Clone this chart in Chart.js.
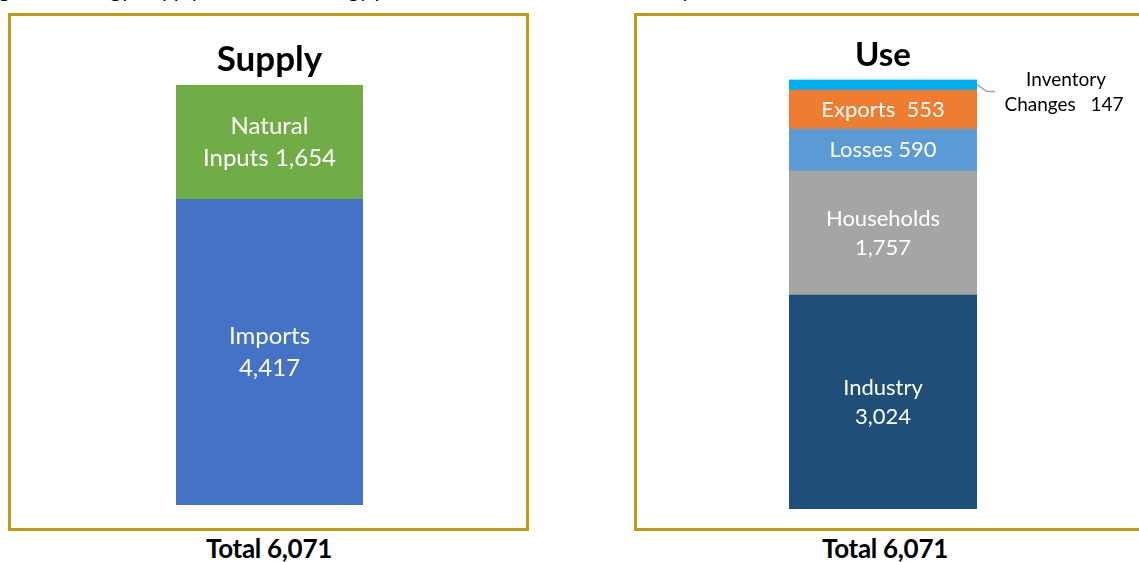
<!DOCTYPE html>
<html>
<head>
<meta charset="utf-8">
<script src="https://cdn.jsdelivr.net/npm/chart.js@4.4.1/dist/chart.umd.min.js"></script>
<style>
  html, body { margin: 0; padding: 0; background: #fff; overflow: hidden; }
  body { width: 1139px; height: 562px; position: relative; font-family: 'Lato', sans-serif; }
  .caption { position: absolute; top: -24px; left: -18px; font-size: 21px; color: #000; white-space: nowrap; }
  .panel { position: absolute; top: 13px; height: 512px; border: 3px solid #C29B13; box-sizing: content-box; }
  #panel-supply { left: 8px; width: 515px; }
  #panel-use { left: 634px; width: 520px; }
  .panel canvas { display: block; }
  .total { position: absolute; top: 532px; font-weight: 700; font-size: 26px; color: #000; text-align: center; width: 300px; letter-spacing: -0.3px; }
</style>
</head>
<body>
<div class="caption">Figure 1: Energy, supply and use of energy products, Australia, 2019–20 (PJ/year)</div>

<div class="panel" id="panel-supply"><div style="position:relative;width:515px;height:512px"><canvas id="chart-supply"></canvas></div></div>
<div class="panel" id="panel-use"><div style="position:relative;width:502px;height:512px"><canvas id="chart-use"></canvas></div></div>

<div class="total" id="total-supply" style="left:119px"></div>
<div class="total" id="total-use" style="left:735px"></div>

<script>
// ── Data (PJ) ──
const supplyNames  = ['Imports', 'Natural Inputs'];
const supplyValues = [4417, 1654];
const supplyLabels = [['Imports', '{v}'], ['Natural', 'Inputs {v}']];
const supplyColors = ['#4472C4', '#70AD47'];

const useNames  = ['Industry', 'Households', 'Losses', 'Exports', 'Inventory Changes'];
const useValues = [3024, 1757, 590, 553, 147];
const useLabels = [['Industry', '{v}'], ['Households', '{v}'], ['Losses {v}'], ['Exports  {v}'], null];
const useColors = ['#1F4E79', '#A5A5A5', '#5B9BD5', '#ED7D31', '#00B0F0'];

const FONT = "'Lato', sans-serif";

function fmt(v) {
  return v.toLocaleString('en-US');
}

// Segment labels drawn centred in each stacked piece
const segmentLabels = {
  id: 'segmentLabels',
  afterDatasetsDraw(chart, args, opts) {
    const ctx = chart.ctx;
    ctx.save();
    ctx.font = `${opts.size}px ${FONT}`;
    ctx.fillStyle = '#fff';
    ctx.textAlign = 'center';
    ctx.textBaseline = 'middle';
    chart.data.datasets.forEach((ds, i) => {
      const lines = opts.labels[i];
      if (!lines) return;
      const bar = chart.getDatasetMeta(i).data[0];
      const cy = (bar.y + bar.base) / 2;
      const v = fmt(ds.data[0]);
      lines.forEach((l, k) => {
        const y = cy + (k - (lines.length - 1) / 2) * opts.lineHeight;
        ctx.fillText(l.replace('{v}', v), bar.x, y);
      });
    });
    ctx.restore();
  }
};

// Callout for the thin top segment
const callout = {
  id: 'callout',
  afterDatasetsDraw(chart, args, opts) {
    if (!opts.enabled) return;
    const i = chart.data.datasets.length - 1;
    const bar = chart.getDatasetMeta(i).data[0];
    const right = bar.x + bar.width / 2;
    const ctx = chart.ctx;
    ctx.save();
    ctx.strokeStyle = '#A6A6A6';
    ctx.lineWidth = 1.5;
    ctx.beginPath();
    ctx.moveTo(right, bar.y + 5);
    ctx.lineTo(right + 10, bar.y + 12);
    ctx.lineTo(right + 18, bar.y + 12);
    ctx.stroke();
    ctx.font = `19px ${FONT}`;
    ctx.fillStyle = '#000';
    ctx.textAlign = 'center';
    ctx.textBaseline = 'middle';
    const v = chart.data.datasets[i].data[0];
    ctx.fillText('Inventory', right + 89, bar.y);
    ctx.fillText('Changes   ' + fmt(v), right + 87, bar.y + 25);
    ctx.restore();
  }
};

function stackedChart(id, title, names, values, colors, labels, o) {
  const total = values.reduce((a, b) => a + b, 0);
  return new Chart(document.getElementById(id), {
    type: 'bar',
    data: {
      labels: [''],
      datasets: names.map((n, i) => ({
        label: n,
        data: [values[i]],
        backgroundColor: colors[i],
        borderWidth: 0,
        barPercentage: 1,
        categoryPercentage: 1,
      }))
    },
    options: {
      responsive: true,
      maintainAspectRatio: false,
      animation: false,
      layout: { padding: o.padding },
      scales: {
        x: { stacked: true, display: false },
        y: { stacked: true, display: false, min: 0, max: total }
      },
      plugins: {
        legend: { display: false },
        tooltip: { enabled: false },
        title: {
          display: true,
          text: title,
          color: '#000',
          font: { family: FONT, size: o.titleSize, weight: 'bold', lineHeight: 1.2 },
          padding: o.titlePadding,
        },
        segmentLabels: { labels, size: o.size, lineHeight: o.lineHeight },
        callout: { enabled: !!o.callout },
      }
    },
    plugins: [segmentLabels, callout]
  });
}

stackedChart('chart-supply', 'Supply', supplyNames, supplyValues, supplyColors, supplyLabels, {
  padding: { left: 165, right: 163, top: 0, bottom: 23 },
  titleSize: 35,
  titlePadding: { top: 23, bottom: 4 },
  size: 24, lineHeight: 32,
});

stackedChart('chart-use', 'Use', useNames, useValues, useColors, useLabels, {
  padding: { left: 152, right: 162, top: 0, bottom: 19 },
  titleSize: 33,
  titlePadding: { top: 20, bottom: 4 },
  size: 22, lineHeight: 29,
  callout: true,
});

document.getElementById('total-supply').textContent = 'Total ' + fmt(supplyValues.reduce((a, b) => a + b, 0));
document.getElementById('total-use').textContent = 'Total ' + fmt(useValues.reduce((a, b) => a + b, 0));
</script>
</body>
</html>
